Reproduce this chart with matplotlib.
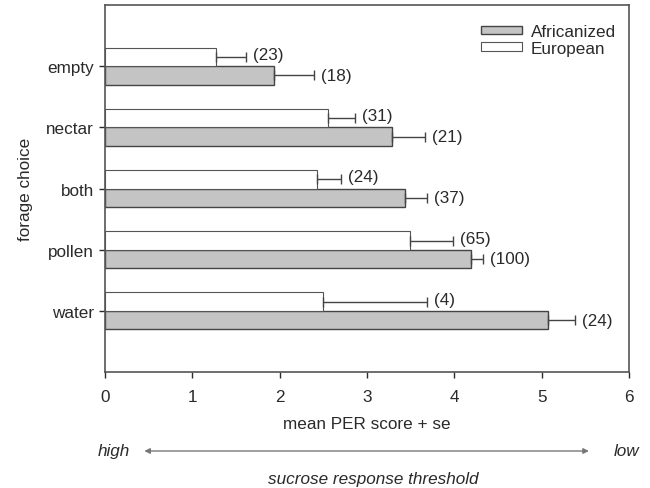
import numpy as np
import matplotlib.pyplot as plt

plt.rcParams['font.family'] = ['Liberation Sans', 'DejaVu Sans']

# data
categories = ['water', 'pollen', 'both', 'nectar', 'empty']
afr_mean = [5.07, 4.19, 3.44, 3.29, 1.94]
afr_se = [0.31, 0.14, 0.25, 0.37, 0.45]
afr_n = ['(24)', '(100)', '(37)', '(21)', '(18)']
eur_mean = [2.50, 3.49, 2.43, 2.55, 1.27]
eur_se = [1.19, 0.50, 0.27, 0.31, 0.35]
eur_n = ['(4)', '(65)', '(24)', '(31)', '(23)']

ink = '#2a2a2a'
fs = 12.3
fig = plt.figure(figsize=(6.5, 4.89), dpi=100)
ax = fig.add_axes([0.1615, 0.2372, 0.8062, 0.7505])

y = np.arange(len(categories))
h = 0.3

ax.barh(y - h / 2, afr_mean, height=h, color='#c4c4c4', edgecolor='#444444',
        linewidth=1.0, label='Africanized')
ax.barh(y + h / 2, eur_mean, height=h, color='white', edgecolor='#555555',
        linewidth=0.8, label='European')

ax.errorbar(afr_mean, y - h / 2, xerr=[np.zeros(5), afr_se], fmt='none',
            ecolor='#444444', elinewidth=1.0, capsize=3.5, capthick=1.0)
ax.errorbar(eur_mean, y + h / 2, xerr=[np.zeros(5), eur_se], fmt='none',
            ecolor='#444444', elinewidth=1.0, capsize=3.5, capthick=1.0)

for i in range(len(categories)):
    ax.text(afr_mean[i] + afr_se[i] + 0.08, y[i] - h / 2, afr_n[i],
            va='center', ha='left', fontsize=fs, color=ink)
    ax.text(eur_mean[i] + eur_se[i] + 0.08, y[i] + h / 2 + 0.04, eur_n[i],
            va='center', ha='left', fontsize=fs, color=ink)

ax.set_xlim(0, 6)
ax.set_ylim(-1, 5)
ax.set_xticks(range(7))
ax.set_yticks(y)
ax.set_yticklabels(categories)
ax.tick_params(labelsize=fs, colors=ink, length=4, width=1.0)
ax.tick_params(axis='x', pad=8)
ax.tick_params(axis='y', pad=4)
for s in ax.spines.values():
    s.set_color('#555555')
    s.set_linewidth(1.2)

ax.set_xlabel('mean PER score + se', fontsize=fs, color=ink, labelpad=9)
ax.set_ylabel('forage choice', fontsize=fs, color=ink, labelpad=9)

ax.legend(loc='upper right', frameon=False, fontsize=fs, handlelength=2.4,
          handleheight=0.4, labelspacing=0.1, handletextpad=0.5,
          bbox_to_anchor=(1.004, 0.99), labelcolor=ink)

# threshold arrow under the x axis
ya = 1 - 452 / 489
fig.text(0.1746, ya, 'high', style='italic', fontsize=fs,
         color=ink, ha='center', va='center')
fig.text(0.9646, ya, 'low', style='italic', fontsize=fs,
         color=ink, ha='center', va='center')
ax.annotate('', xy=(0.222, ya), xytext=(0.906, ya),
            xycoords='figure fraction', textcoords='figure fraction',
            arrowprops=dict(arrowstyle='<|-|>', color='#777777', lw=1.0,
                            mutation_scale=8, shrinkA=0, shrinkB=0))
fig.text(0.575, 1 - 480 / 489, 'sucrose response threshold', style='italic',
         fontsize=fs, color=ink, ha='center', va='center')

fig.savefig('out.png', dpi=100)
